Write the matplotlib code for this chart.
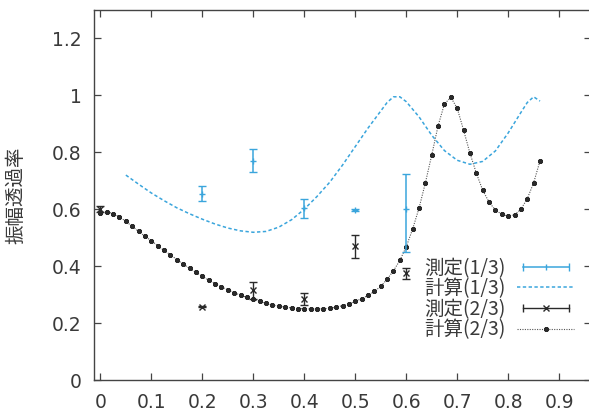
import matplotlib
matplotlib.use("Agg")
import matplotlib.pyplot as plt
from matplotlib.lines import Line2D
from matplotlib.legend_handler import HandlerLine2D, HandlerTuple

# ---------------- data ----------------
calc23_x = [0.0, 0.0125, 0.025, 0.0375, 0.05, 0.0625, 0.075, 0.0875, 0.1, 0.1125,
            0.125, 0.1375, 0.15, 0.1625, 0.175, 0.1875, 0.2, 0.2125, 0.225, 0.2375,
            0.25, 0.2625, 0.275, 0.2875, 0.3, 0.3125, 0.325, 0.3375, 0.35, 0.3625,
            0.375, 0.3875, 0.4, 0.4125, 0.425, 0.4375, 0.45, 0.4625, 0.475, 0.4875,
            0.5, 0.5125, 0.525, 0.5375, 0.55, 0.5625, 0.575, 0.5875, 0.6, 0.6125,
            0.625, 0.6375, 0.65, 0.6625, 0.675, 0.6875, 0.7, 0.7125, 0.725, 0.7375,
            0.75, 0.7625, 0.775, 0.7875, 0.8, 0.8125, 0.825, 0.8375, 0.85, 0.8625]
calc23_y = [0.586, 0.591, 0.585, 0.573, 0.557, 0.540, 0.522, 0.505, 0.489, 0.472,
            0.455, 0.440, 0.423, 0.407, 0.392, 0.378, 0.364, 0.351, 0.339, 0.327,
            0.317, 0.307, 0.298, 0.290, 0.283, 0.276, 0.269, 0.264, 0.259, 0.256,
            0.253, 0.251, 0.250, 0.249, 0.249, 0.250, 0.252, 0.256, 0.261, 0.268,
            0.276, 0.286, 0.297, 0.311, 0.329, 0.354, 0.384, 0.420, 0.468, 0.530,
            0.603, 0.692, 0.790, 0.893, 0.970, 0.993, 0.955, 0.878, 0.797, 0.727,
            0.667, 0.625, 0.597, 0.582, 0.576, 0.580, 0.600, 0.637, 0.693, 0.770]

calc13_x = [0.05, 0.075, 0.1, 0.125, 0.15, 0.175, 0.2, 0.225, 0.25, 0.275, 0.3,
            0.325, 0.35, 0.375, 0.4, 0.425, 0.45, 0.475, 0.5, 0.525, 0.55, 0.5625,
            0.575, 0.5875, 0.6, 0.625, 0.65, 0.675, 0.7, 0.725, 0.75, 0.775, 0.8,
            0.825, 0.8375, 0.85, 0.8625]
calc13_y = [0.720, 0.688, 0.657, 0.630, 0.605, 0.584, 0.565, 0.548, 0.534, 0.524, 0.519,
            0.522, 0.537, 0.563, 0.600, 0.645, 0.695, 0.755, 0.820, 0.885, 0.945, 0.975,
            0.995, 0.995, 0.978, 0.925, 0.860, 0.806, 0.772, 0.758, 0.768, 0.805, 0.868,
            0.940, 0.975, 0.995, 0.980]

meas13_x = [0.2, 0.3, 0.4, 0.5, 0.6]
meas13_y = [0.655, 0.770, 0.603, 0.597, 0.600]
meas13_err_lo = [0.025, 0.040, 0.033, 0.003, 0.150]
meas13_err_hi = [0.027, 0.040, 0.033, 0.003, 0.125]

meas23_x = [0.0, 0.2, 0.3, 0.4, 0.5, 0.6]
meas23_y = [0.600, 0.257, 0.315, 0.285, 0.470, 0.375]
meas23_err = [0.010, 0.002, 0.030, 0.020, 0.040, 0.020]

xticks = [0, 0.1, 0.2, 0.3, 0.4, 0.5, 0.6, 0.7, 0.8, 0.9]
xticklabels = ["0", "0.1", "0.2", "0.3", "0.4", "0.5", "0.6", "0.7", "0.8", "0.9"]
yticks = [0, 0.2, 0.4, 0.6, 0.8, 1.0, 1.2]
yticklabels = ["0", "0.2", "0.4", "0.6", "0.8", "1", "1.2"]

labels = ["測定(1/3)", "計算(1/3)", "測定(2/3)", "計算(2/3)"]
ylabel = "振幅透過率"

# ---------------- style ----------------
BLUE = "#3aa5dc"
BLACK = "#2a2a2a"
TXT = "#3a3a3a"
CJK = ["Noto Sans CJK JP", "DejaVu Sans"]
star = (8, 2, 0)

fig = plt.figure(figsize=(5.89, 4.11), dpi=100)
ax = fig.add_axes([94 / 589, 1 - 380 / 411, (591 - 94) / 589, 370 / 411])

ax.plot(calc13_x, calc13_y, color=BLUE, lw=1.1, ls=(0, (2.2, 1.6)))
ax.plot(calc23_x, calc23_y, color="#555555", lw=0.8, ls=(0, (1, 1.2)),
        marker=star, ms=3.5, mew=1.0, mec=BLACK, mfc=BLACK)
ax.errorbar(meas13_x, meas13_y, yerr=[meas13_err_lo, meas13_err_hi], fmt="+",
            color=BLUE, ms=5, mew=1.0, elinewidth=1.1, capsize=3, capthick=1.0)
ax.errorbar(meas23_x, meas23_y, yerr=meas23_err, fmt="x",
            color=BLACK, ms=4, mew=1.0, elinewidth=1.0, capsize=3, capthick=1.0)

ax.set_xlim(-0.0125, 0.9625)
ax.set_ylim(0, 1.3)
ax.set_xticks(xticks)
ax.set_xticklabels(xticklabels)
ax.set_yticks(yticks)
ax.set_yticklabels(yticklabels)
ax.tick_params(direction="in", length=5, width=0.9, top=True, right=True,
               colors="#444444", labelcolor=TXT, labelsize=13.5)
ax.tick_params(axis="x", pad=9)
ax.tick_params(axis="y", pad=8.8)
for lab in ax.get_xticklabels() + ax.get_yticklabels():
    lab.set_family(["DejaVu Sans"])
for s in ax.spines.values():
    s.set_color("#444444")
    s.set_linewidth(1.0)

ax.set_ylabel(ylabel, fontsize=14, family=CJK, color=TXT)
ax.yaxis.set_label_coords(-0.135, 0.5)

h1a = Line2D([], [], color=BLUE, lw=1.1, marker="|", ms=6, mew=1.0)
h1b = Line2D([], [], color=BLUE, lw=0, marker="|", ms=5, mew=1.0)
h2 = Line2D([], [], color=BLUE, lw=1.1, ls=(0, (2.2, 1.6)))
h3a = Line2D([], [], color=BLACK, lw=1.0, marker="|", ms=6, mew=1.0)
h3b = Line2D([], [], color=BLACK, lw=0, marker="x", ms=4, mew=1.0)
h4 = Line2D([], [], color="#555555", lw=0.8, ls=(0, (1, 1.2)), marker=star,
            ms=3.5, mew=1.0, mec=BLACK, mfc=BLACK)
hm = {h1a: HandlerLine2D(numpoints=2), h1b: HandlerLine2D(numpoints=1),
      h3a: HandlerLine2D(numpoints=2), h3b: HandlerLine2D(numpoints=1),
      h2: HandlerLine2D(numpoints=1), h4: HandlerLine2D(numpoints=1)}
leg = ax.legend([(h1a, h1b), h2, (h3a, h3b), h4], labels,
                handler_map={**hm, tuple: HandlerTuple(ndivide=1)},
                loc="lower right", bbox_to_anchor=(0.994, 0.07),
                frameon=False, markerfirst=False, handlelength=2.95,
                handletextpad=0.6, labelspacing=-0.02, borderpad=0.2,
                prop={"family": CJK, "size": 14})
for t in leg.get_texts():
    t.set_color(TXT)

fig.savefig("out.png", dpi=100)
